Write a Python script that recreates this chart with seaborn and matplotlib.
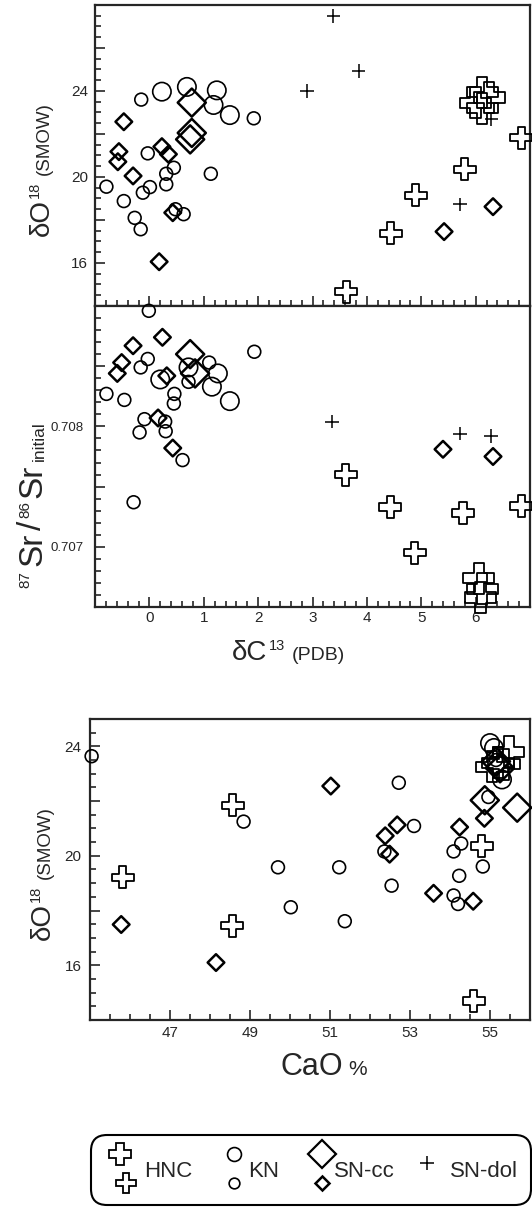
"""Isotope cross-plots: dC13 vs dO18 and 87Sr/86Sr, plus CaO vs dO18."""

import matplotlib

matplotlib.use("Agg")

import matplotlib.pyplot as plt
import pandas as pd
import seaborn as sns
from matplotlib.legend_handler import HandlerBase
from matplotlib.lines import Line2D
from matplotlib.ticker import FixedLocator, FuncFormatter, MultipleLocator


# upper panel: dC13 (PDB) vs dO18 (SMOW)
HNC_C13_UP = [6.12, 6.25, 6.00, 6.12, 6.84, 5.80, 4.90, 4.44, 3.62]
HNC_O18_UP = [23.95, 23.70, 23.45, 23.20, 21.83, 20.36, 19.15, 17.38, 14.66]
HNC_BIG_UP = [1, 1, 1, 1, 0, 0, 0, 0, 0]

KN_C13_UP = [0.23, 0.69, 1.24, 1.18, 1.48, -0.15, 1.92, -0.03, 0.45, 0.31, 1.13, -0.79,
             0.31, 0.01, -0.12, -0.47, 0.63, 0.48, -0.27, -0.16]
KN_O18_UP = [23.97, 24.19, 24.03, 23.35, 22.88, 23.60, 22.73, 21.10, 20.43, 20.15, 20.15, 19.55,
             19.66, 19.53, 19.27, 18.88, 18.27, 18.50, 18.10, 17.57]
KN_BIG_UP = [1, 1, 1, 1, 1] + [0] * 15

SNCC_C13_UP = [0.78, 0.78, 0.75, -0.47, -0.56, -0.58, 0.23, 0.35, -0.30, 0.43, 0.18, 5.42, 6.32]
SNCC_O18_UP = [23.46, 22.05, 21.75, 22.57, 21.18, 20.71, 21.41, 21.06, 20.05, 18.34, 16.06, 17.46, 18.62]
SNCC_BIG_UP = [1, 1, 1] + [0] * 10

SNDOL_C13_UP = [3.38, 3.85, 2.90, 6.29, 5.71]
SNDOL_O18_UP = [27.49, 24.93, 24.00, 22.68, 18.73]

# middle panel: dC13 (PDB) vs 87Sr/86Sr initial
HNC_C13_MID = [6.06, 6.12, 6.09, 3.61, 4.43, 5.77, 6.84, 4.88]
HNC_SR_MID = [0.70674, 0.70665, 0.70658, 0.70760, 0.70733, 0.70728, 0.70734, 0.70695]
HNC_BIG_MID = [1, 1, 1, 0, 0, 0, 0, 0]

KN_C13_MID = [1.26, 0.20, 0.72, 1.15, 1.48, -0.01, 1.93, -0.03, -0.16, 1.10, 0.72, -0.79,
              -0.46, 0.46, 0.45, -0.09, -0.18, 0.29, 0.30, 0.61, -0.29]
KN_SR_MID = [0.70844, 0.70839, 0.70849, 0.70833, 0.70821, 0.70896, 0.70862, 0.70856, 0.70849,
             0.70853, 0.70837, 0.70827, 0.70822, 0.70827, 0.70819, 0.70806, 0.70795, 0.70804,
             0.70796, 0.70772, 0.70737]
KN_BIG_MID = [1, 1, 1, 1, 1] + [0] * 16

SNCC_C13_MID = [0.75, 0.84, 0.24, -0.30, -0.51, -0.59, 0.32, 0.16, 0.43, 5.40, 6.32]
SNCC_SR_MID = [0.70860, 0.70844, 0.70874, 0.70867, 0.70853, 0.70844, 0.70842, 0.70807,
               0.70782, 0.70781, 0.70775]
SNCC_BIG_MID = [1, 1] + [0] * 9

SNDOL_C13_MID = [3.36, 5.71, 6.28]
SNDOL_SR_MID = [0.70804, 0.70794, 0.70792]

# lower panel: CaO % vs dO18 (SMOW)
HNC_CAO = [55.47, 55.20, 55.05, 55.35, 45.82, 48.57, 48.56, 54.79, 54.59]
HNC_O18_LOW = [23.80, 23.40, 23.25, 23.35, 19.21, 21.85, 17.45, 20.36, 14.69]
HNC_BIG_LOW = [1, 1, 1, 1, 0, 0, 0, 0, 0]

KN_CAO = [55.00, 55.10, 55.30, 45.04, 52.72, 48.84, 53.10, 54.28, 54.09, 52.36, 54.82, 49.70,
          51.23, 54.23, 52.54, 54.09, 54.20, 50.02, 51.37, 54.96, 55.15]
KN_O18_LOW = [24.12, 23.94, 22.79, 23.64, 22.67, 21.25, 21.09, 20.45, 20.16, 20.16, 19.61, 19.58,
              19.58, 19.27, 18.91, 18.55, 18.24, 18.12, 17.61, 22.15, 23.50]
KN_BIG_LOW = [1, 1, 1] + [0] * 18

SNCC_CAO = [54.87, 55.68, 55.15, 55.25, 51.02, 52.68, 52.38, 52.49, 54.24, 54.86, 53.59, 54.58,
            45.78, 48.15]
SNCC_O18_LOW = [22.03, 21.76, 23.45, 23.20, 22.55, 21.13, 20.73, 20.06, 21.05, 21.37, 18.63, 18.34,
                17.49, 16.10]
SNCC_BIG_LOW = [1, 1, 1, 1] + [0] * 10

STYLE = {
    "HNC": {"marker": "P", "sizes": {"large": 500, "small": 250}, "lw": 1.3},
    "KN": {"marker": "o", "sizes": {"large": 175, "small": 85}, "lw": 1.2},
    "SN-cc": {"marker": "D", "sizes": {"large": 205, "small": 72}, "lw": 1.8},
    "SN-dol": {"marker": "+", "sizes": {"large": 92, "small": 92}, "lw": 1.1},
}

W, H = 532, 1215


def frame(group, xs, ys, big=None):
    big = big if big is not None else [0] * len(xs)
    return pd.DataFrame({
        "group": group,
        "x": xs,
        "y": ys,
        "size": ["large" if b else "small" for b in big],
    })


def draw_points(ax, df):
    for group, style in STYLE.items():
        sub = df[df["group"] == group]
        if sub.empty:
            continue
        kws = dict(data=sub, x="x", y="y", size="size", sizes=style["sizes"],
                   marker=style["marker"], linewidth=style["lw"], legend=False,
                   ax=ax, zorder=3, clip_on=False)
        if style["marker"] == "+":
            sns.scatterplot(color="black", **kws)
        else:
            sns.scatterplot(color="black", facecolor="none", edgecolor="black", **kws)
    ax.set_xlabel("")
    ax.set_ylabel("")


def only(values, fmt):
    return FuncFormatter(lambda v, pos: fmt.format(v) if any(abs(v - t) < 1e-9 for t in values) else "")


def px_box(left, top, right, bottom):
    return [left / W, 1 - bottom / H, (right - left) / W, (bottom - top) / H]


def style_axis(ax):
    for spine in ax.spines.values():
        spine.set_linewidth(1.6)
        spine.set_visible(True)
    ax.tick_params(which="both", direction="in", top=False, right=False, labelsize=11, width=1.2)
    ax.tick_params(which="major", length=7)
    ax.tick_params(which="minor", length=4)


def chain_text(fig, x, y, pieces, vertical=False):
    """Write pieces of text one after another; (x, y) is the start in pixels from top-left."""
    renderer = fig.canvas.get_renderer()
    along = 0.0
    for text, size, raise_px, gap in pieces:
        along += gap
        if vertical:
            px, py = x - raise_px, (H - y) + along
        else:
            px, py = x + along, (H - y) + raise_px
        t = fig.text(px / W, py / H, text, fontsize=size, ha="left", va="baseline",
                     rotation=90 if vertical else 0, rotation_mode="anchor")
        box = t.get_window_extent(renderer)
        along += box.height if vertical else box.width


class StackedSizes(HandlerBase):
    def __init__(self, fx):
        super().__init__()
        self.fx = fx

    def create_artists(self, legend, orig_handle, xdescent, ydescent, width, height, fontsize, trans):
        artists = []
        for handle, fx, fy in zip(orig_handle, self.fx, (0.88, 0.2)):
            art = Line2D([width * fx - xdescent], [height * fy - ydescent], linestyle="none",
                         marker=handle.get_marker(), markersize=handle.get_markersize(),
                         markerfacecolor="none", markeredgecolor="black",
                         markeredgewidth=handle.get_markeredgewidth())
            art.set_transform(trans)
            artists.append(art)
        return artists


def proxy(marker, size, lw):
    return Line2D([], [], linestyle="none", marker=marker, markersize=size,
                  markerfacecolor="none", markeredgecolor="black", markeredgewidth=lw)


def main():
    sns.set_style("ticks")
    plt.rcParams["font.family"] = ["Liberation Sans", "DejaVu Sans"]

    upper = pd.concat([
        frame("HNC", HNC_C13_UP, HNC_O18_UP, HNC_BIG_UP),
        frame("KN", KN_C13_UP, KN_O18_UP, KN_BIG_UP),
        frame("SN-cc", SNCC_C13_UP, SNCC_O18_UP, SNCC_BIG_UP),
        frame("SN-dol", SNDOL_C13_UP, SNDOL_O18_UP),
    ])
    middle = pd.concat([
        frame("HNC", HNC_C13_MID, HNC_SR_MID, HNC_BIG_MID),
        frame("KN", KN_C13_MID, KN_SR_MID, KN_BIG_MID),
        frame("SN-cc", SNCC_C13_MID, SNCC_SR_MID, SNCC_BIG_MID),
        frame("SN-dol", SNDOL_C13_MID, SNDOL_SR_MID),
    ])
    lower = pd.concat([
        frame("HNC", HNC_CAO, HNC_O18_LOW, HNC_BIG_LOW),
        frame("KN", KN_CAO, KN_O18_LOW, KN_BIG_LOW),
        frame("SN-cc", SNCC_CAO, SNCC_O18_LOW, SNCC_BIG_LOW),
    ])

    fig = plt.figure(figsize=(W / 100, H / 100), dpi=100)
    ax_o = fig.add_axes(px_box(95, 5, 530, 306))
    ax_sr = fig.add_axes(px_box(95, 306, 530, 607), sharex=ax_o)
    ax_ca = fig.add_axes(px_box(90, 719, 530, 1020))

    draw_points(ax_o, upper)
    draw_points(ax_sr, middle)
    draw_points(ax_ca, lower)

    for ax in (ax_o, ax_sr, ax_ca):
        style_axis(ax)

    # shared dC13 axis
    ax_o.set_xlim(-1, 7)
    ax_o.xaxis.set_major_locator(FixedLocator(range(0, 7)))
    ax_o.xaxis.set_minor_locator(MultipleLocator(0.2))
    ax_o.tick_params(labelbottom=False)
    ax_sr.tick_params(axis="x", pad=3)

    ax_o.set_ylim(14, 28)
    ax_o.yaxis.set_major_locator(FixedLocator([16, 18, 20, 22, 24, 26]))
    ax_o.yaxis.set_major_formatter(only([16, 20, 24], "{:.0f}"))
    ax_o.yaxis.set_minor_locator(MultipleLocator(0.5))
    ax_o.tick_params(axis="y", pad=5)

    ax_sr.set_ylim(0.7065, 0.709)
    ax_sr.yaxis.set_major_locator(FixedLocator([0.707, 0.7075, 0.708, 0.7085]))
    ax_sr.yaxis.set_major_formatter(only([0.707, 0.708], "{:.3f}"))
    ax_sr.yaxis.set_minor_locator(MultipleLocator(0.0001))
    ax_sr.tick_params(axis="y", pad=8, labelsize=9.5)

    ax_ca.set_xlim(45, 56)
    ax_ca.xaxis.set_major_locator(FixedLocator([47, 49, 51, 53, 55]))
    ax_ca.xaxis.set_minor_locator(MultipleLocator(0.5))
    ax_ca.tick_params(axis="x", pad=4)
    ax_ca.set_ylim(14, 25)
    ax_ca.yaxis.set_major_locator(FixedLocator([16, 18, 20, 22, 24]))
    ax_ca.yaxis.set_major_formatter(only([16, 20, 24], "{:.0f}"))
    ax_ca.yaxis.set_minor_locator(MultipleLocator(0.5))
    ax_ca.tick_params(axis="y", pad=6)

    # axis titles: (text, size, raise in px, gap before in px)
    o18_title = [("δO", 20, 0, 0), ("18", 10.5, 10, 1), ("(SMOW)", 13.5, 0, 7)]
    chain_text(fig, 49, 236, o18_title, vertical=True)
    chain_text(fig, 50, 940, o18_title, vertical=True)
    chain_text(fig, 41, 588, [("87", 11, 12, 0), ("Sr", 24, 0, 5), ("/", 24, 0, 3),
                              ("86", 11, 12, 3), ("Sr", 24, 0, 3), ("initial", 12.5, -3, 3)],
               vertical=True)
    chain_text(fig, 232, 660, [("δC", 20, 0, 0), ("13", 10.5, 10, 1), ("(PDB)", 14, 0, 7)])
    chain_text(fig, 280, 1075, [("CaO", 22, 0, 0), ("%", 15, 0, 6)])

    hnc = (proxy("P", 16.5, 1.3), proxy("P", 14.0, 1.3))
    kn = (proxy("o", 10.0, 1.2), proxy("o", 7.7, 1.2))
    sncc = (proxy("D", 14.0, 1.6), proxy("D", 7.0, 1.8))
    sndol = proxy("+", 10.0, 1.1)
    leg = fig.legend(
        [hnc, kn, sncc, sndol], ["HNC", "KN", "SN-cc", "SN-dol"],
        handler_map={hnc: StackedSizes((0.45, 0.6)), kn: StackedSizes((0.75, 0.75)),
                     sncc: StackedSizes((0.8, 0.8))},
        loc="center", bbox_to_anchor=(91 / W, 1 - 1209 / H, 440 / W, 78 / H), mode="expand",
        borderaxespad=0, ncol=4, fontsize=16, handlelength=1.6, handleheight=2.6,
        handletextpad=0.2, borderpad=0.6, columnspacing=0.5, frameon=True, fancybox=True,
    )
    frame_patch = leg.get_frame()
    frame_patch.set_edgecolor("black")
    frame_patch.set_linewidth(1.5)
    frame_patch.set_alpha(1)
    frame_patch.set_boxstyle("round", pad=0, rounding_size=0.7)

    fig.savefig("out.png", dpi=100)
    plt.close(fig)


if __name__ == "__main__":
    main()
